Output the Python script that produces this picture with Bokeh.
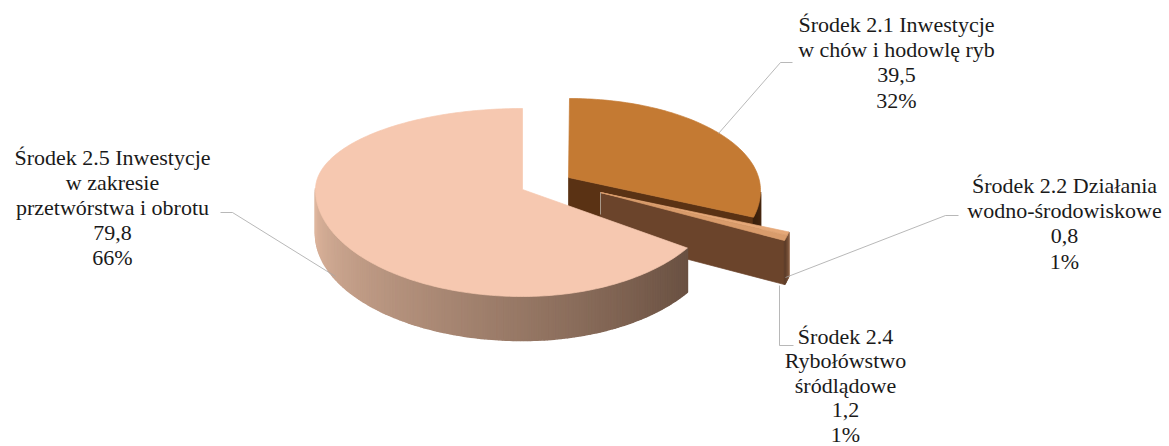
import numpy as np
from bokeh.plotting import figure
from bokeh.models import ColumnDataSource
from bokeh.core.properties import value
from bokeh.embed import file_html
from bokeh.resources import INLINE

categories = ["Środek 2.1 Inwestycje\nw chów i hodowlę ryb",
              "Środek 2.2 Działania\nwodno-środowiskowe",
              "Środek 2.4\nRybołówstwo\nśródlądowe",
              "Środek 2.5 Inwestycje\nw zakresie\nprzetwórstwa i obrotu"]
values = [39.5, 0.8, 1.2, 79.8]
percents = [32, 1, 1, 66]

W, H = 1169, 446
p = figure(width=W, height=H, x_range=(0, W), y_range=(H, 0),
           output_backend="svg", toolbar_location=None, min_border=0)
p.axis.visible = False
p.grid.visible = False
p.outline_line_color = None
p.background_fill_color = "white"
p.border_fill_color = "white"

fr = np.array(values) / sum(values)
edges = np.concatenate([[0], np.cumsum(fr)]) * 360.0
DEPTH = 44


def mix(c1, c2, t):
    c = [int(round(a + (b - a) * t)) for a, b in zip(c1, c2)]
    return "#%02x%02x%02x" % tuple(c)


def rim(a0, a1, cx, cy, rxl, rxr, ryb, ryf, n=80):
    t = np.radians(np.linspace(a0, a1, n))
    s, c = np.sin(t), np.cos(t)
    x = cx + np.where(s >= 0, rxr, rxl) * s
    y = cy - np.where(c >= 0, ryb, ryf) * c
    return x, y


def face(xs, ys, color, lc=None):
    p.patch(list(xs), list(ys), fill_color=color, line_color=lc or color, line_width=0.7)


def wall(xr, yr, c0, c1, depth=DEPTH):
    xs, ys, cols = [], [], []
    for i in range(len(xr) - 1):
        xs.append([xr[i], xr[i + 1], xr[i + 1], xr[i]])
        ys.append([yr[i], yr[i + 1], yr[i + 1] + depth, yr[i] + depth])
        cols.append(mix(c0, c1, i / (len(xr) - 2)))
    p.patches(xs, ys, fill_color=cols, line_color=cols, line_width=1.6)


# Slice 2.1 (angles squeezed as in the original's perspective)
k1 = 0.9
ax1, ay1 = 568.0, 177.0
x1, y1 = rim(edges[0] * k1, edges[1] * k1, 569, 190, 191, 191, 92, 100)
face([ax1, x1[-1], x1[-1], ax1], [ay1, y1[-1], y1[-1] + DEPTH, ay1 + DEPTH], "#5a3214")
wall(x1[-12:], y1[-12:], (74, 42, 18), (58, 32, 12))
face(np.r_[ax1, x1], np.r_[ay1, y1], "#c47a33")

# Slices 2.2 and 2.4 (thin exploded slivers)
ax2, ay2 = 600.0, 192.0
base = 107.0
k2 = 0.65
a2 = base
a3 = base + (edges[2] - edges[1]) * k2
a4 = a3 + (edges[3] - edges[2]) * k2
x2, y2 = rim(a2, a3, ax2, ay2, 197, 197, 135, 135, 6)
x3, y3 = rim(a3, a4, ax2, ay2, 197, 197, 135, 135, 6)
face([ax2, x3[-1], x3[-1], ax2], [ay2, y3[-1], y3[-1] + 44, ay2 + 44], "#6b442b")
wall(np.r_[x2, x3[1:]], np.r_[y2, y3[1:]], (150, 105, 75), (95, 62, 42), 44)
face(np.r_[ax2, x2], np.r_[ay2, y2], "#e5a878")
face(np.r_[ax2, x3], np.r_[ay2, y3], "#d99c6c")
p.line([ax2, ax2], [ay2, ay2 + 22], line_color="#a89888", line_width=1)

# Slice 2.5
cx5, cy5 = 522.0, 189.0
x5, y5 = rim(edges[3], edges[4], cx5, cy5, 207, 197, 81, 107, 240)
wall(x5[:150], y5[:150], (105, 80, 65), (222, 182, 158))
face(np.r_[cx5, x5], np.r_[cy5, y5], "#f6c8b0")

# Leader lines
leaders = [([792, 780, 718], [62, 62, 133]),
           ([958, 945, 785], [215, 215, 277]),
           ([779, 779, 793], [285, 345, 345]),
           ([220, 232, 335], [212, 212, 276])]
for lx, ly in leaders:
    p.line(lx, ly, line_color="#a6a6a6", line_width=0.8)

# Labels
anchors = [(896, 24, 25.2), (1064, 185, 25.2), (845, 336, 24.4), (112, 157, 25.0)]
tx, ty, tt = [], [], []
for cat, v, pc, (ax, ay, sp) in zip(categories, values, percents, anchors):
    lines = cat.split("\n") + [f"{v:.1f}".replace(".", ","), f"{pc}%"]
    for i, s in enumerate(lines):
        tx.append(ax)
        ty.append(ay + i * sp)
        tt.append(s)
src = ColumnDataSource(dict(x=tx, y=ty, t=tt))
p.text("x", "y", text="t", source=src, text_align="center", text_baseline="middle",
       text_font=value("Liberation Serif"), text_font_size="22px", text_color="#1a1a1a")

open("out.html", "w").write(file_html(p, INLINE))
